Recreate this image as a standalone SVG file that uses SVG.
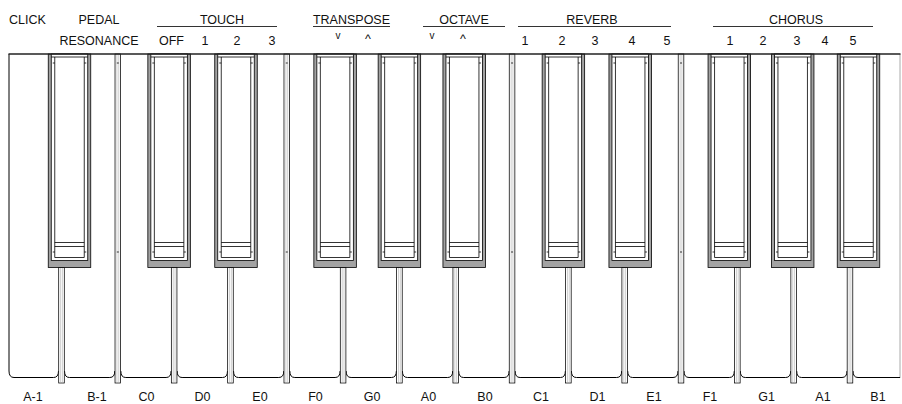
<svg xmlns="http://www.w3.org/2000/svg" xmlns:xlink="http://www.w3.org/1999/xlink" width="902" height="404" viewBox="0 0 902 404">
<style>
.t{font-family:"Liberation Sans",Arial,sans-serif;font-size:12.5px;fill:#111;text-anchor:middle}
.ul{stroke:#333;stroke-width:1.2}
.k{stroke:#000;stroke-width:0.8;fill:none}
.kb{stroke:#000;stroke-width:1;fill:none}
.g{stroke:#b0b0b0;stroke-width:0.6}
</style>
<defs>
<g id="bk">
<rect x="0" y="54" width="42.5" height="213.5" fill="#a3a3a3" stroke="#000" stroke-width="0.8"/>
<rect x="3" y="54" width="36.5" height="206.5" fill="#fff" stroke="#000" stroke-width="0.8"/>
<path class="k" d="M6.5 57V257.5M36 57V257.5M3 57H39.5M6.5 242.5H36M6.5 246.5H36M6.5 257.5H36M4.5 63H6.5M36 63H38M4.5 252H6.5M36 252H38"/>
</g>
<g id="sepS">
<rect x="-2.8" y="267.5" width="5.6" height="115.5" fill="#fff" stroke="#000" stroke-width="0.75"/>
<path class="g" d="M-0.9 268V382.5M0.9 268V382.5"/>
</g>
<g id="sepF">
<rect x="-2.8" y="54" width="5.6" height="329" fill="#fff" stroke="#000" stroke-width="0.75"/>
<path class="g" d="M-0.9 55V382.5M0.9 55V382.5"/>
<path class="k" d="M-1 63H1M-1 252H1"/>
</g>
</defs>

<g id="labels-top">
<text class="t" x="27.5" y="24">CLICK</text>
<text class="t" x="99" y="24">PEDAL</text>
<text class="t" x="99" y="45">RESONANCE</text>
<text class="t" x="222" y="24">TOUCH</text>
<line class="ul" x1="157" y1="26.5" x2="277" y2="26.5"/>
<text class="t" x="171.5" y="45">OFF</text>
<text class="t" x="205" y="45">1</text>
<text class="t" x="237" y="45">2</text>
<text class="t" x="272" y="45">3</text>
<text class="t" x="351.5" y="24">TRANSPOSE</text>
<line class="ul" x1="313" y1="26.5" x2="390" y2="26.5"/>
<text class="t" x="338" y="38.5" style="font-size:10px">v</text>
<text class="t" x="368" y="42.5">^</text>
<text class="t" x="464" y="24">OCTAVE</text>
<line class="ul" x1="423" y1="26.5" x2="505" y2="26.5"/>
<text class="t" x="432" y="38.5" style="font-size:10px">v</text>
<text class="t" x="463" y="42.5">^</text>
<text class="t" x="592" y="24">REVERB</text>
<line class="ul" x1="518" y1="26.5" x2="671" y2="26.5"/>
<text class="t" x="525" y="45">1</text>
<text class="t" x="562" y="45">2</text>
<text class="t" x="595" y="45">3</text>
<text class="t" x="632" y="45">4</text>
<text class="t" x="667" y="45">5</text>
<text class="t" x="796" y="24">CHORUS</text>
<line class="ul" x1="713" y1="26.5" x2="873" y2="26.5"/>
<text class="t" x="730" y="45">1</text>
<text class="t" x="763" y="45">2</text>
<text class="t" x="797" y="45">3</text>
<text class="t" x="825" y="45">4</text>
<text class="t" x="853" y="45">5</text>
</g>

<g id="keyboard-frame">
<rect x="9" y="54" width="891" height="324" fill="#fff"/>
<path class="kb" d="M9 54V371"/>
<path d="M900 54V378" stroke="#aaa" stroke-width="1" fill="none"/>
</g>

<g id="white-keys">
<path id="wk-A-1" class="kb" d="M9 371Q9 377.5 14 377.5H53.5Q58.5 377.5 58.5 371"/>
<path id="wk-B-1" class="kb" d="M64.5 371Q64.5 377.5 69.5 377.5H109.8Q114.8 377.5 114.8 371"/>
<path id="wk-C0" class="kb" d="M120.8 371Q120.8 377.5 125.8 377.5H166.1Q171.1 377.5 171.1 371"/>
<path id="wk-D0" class="kb" d="M177.1 371Q177.1 377.5 182.1 377.5H222.5Q227.5 377.5 227.5 371"/>
<path id="wk-E0" class="kb" d="M233.5 371Q233.5 377.5 238.5 377.5H278.8Q283.8 377.5 283.8 371"/>
<path id="wk-F0" class="kb" d="M289.8 371Q289.8 377.5 294.8 377.5H335.1Q340.1 377.5 340.1 371"/>
<path id="wk-G0" class="kb" d="M346.1 371Q346.1 377.5 351.1 377.5H391.4Q396.4 377.5 396.4 371"/>
<path id="wk-A0" class="kb" d="M402.4 371Q402.4 377.5 407.4 377.5H447.7Q452.7 377.5 452.7 371"/>
<path id="wk-B0" class="kb" d="M458.7 371Q458.7 377.5 463.7 377.5H504.1Q509.1 377.5 509.1 371"/>
<path id="wk-C1" class="kb" d="M515.1 371Q515.1 377.5 520.1 377.5H560.4Q565.4 377.5 565.4 371"/>
<path id="wk-D1" class="kb" d="M571.4 371Q571.4 377.5 576.4 377.5H616.7Q621.7 377.5 621.7 371"/>
<path id="wk-E1" class="kb" d="M627.7 371Q627.7 377.5 632.7 377.5H673Q678 377.5 678 371"/>
<path id="wk-F1" class="kb" d="M684 371Q684 377.5 689 377.5H729.3Q734.3 377.5 734.3 371"/>
<path id="wk-G1" class="kb" d="M740.3 371Q740.3 377.5 745.3 377.5H785.7Q790.7 377.5 790.7 371"/>
<path id="wk-A1" class="kb" d="M796.7 371Q796.7 377.5 801.7 377.5H842Q847 377.5 847 371"/>
<path id="wk-B1" class="kb" d="M853 371Q853 377.5 858 377.5H900"/>
</g>

<g id="separators">
<use xlink:href="#sepS" href="#sepS" transform="translate(61.5 0)"/>
<use xlink:href="#sepF" href="#sepF" transform="translate(117.82 0)"/>
<use xlink:href="#sepS" href="#sepS" transform="translate(174.14 0)"/>
<use xlink:href="#sepS" href="#sepS" transform="translate(230.46 0)"/>
<use xlink:href="#sepF" href="#sepF" transform="translate(286.78 0)"/>
<use xlink:href="#sepS" href="#sepS" transform="translate(343.1 0)"/>
<use xlink:href="#sepS" href="#sepS" transform="translate(399.42 0)"/>
<use xlink:href="#sepS" href="#sepS" transform="translate(455.74 0)"/>
<use xlink:href="#sepF" href="#sepF" transform="translate(512.06 0)"/>
<use xlink:href="#sepS" href="#sepS" transform="translate(568.38 0)"/>
<use xlink:href="#sepS" href="#sepS" transform="translate(624.7 0)"/>
<use xlink:href="#sepF" href="#sepF" transform="translate(681.02 0)"/>
<use xlink:href="#sepS" href="#sepS" transform="translate(737.34 0)"/>
<use xlink:href="#sepS" href="#sepS" transform="translate(793.66 0)"/>
<use xlink:href="#sepS" href="#sepS" transform="translate(849.98 0)"/>
</g>

<g id="bk-As-1"><use xlink:href="#bk" href="#bk" transform="translate(48.25 0)"/></g>
<g id="bk-Cs0"><use xlink:href="#bk" href="#bk" transform="translate(147.85 0)"/></g>
<g id="bk-Ds0"><use xlink:href="#bk" href="#bk" transform="translate(214.75 0)"/></g>
<g id="bk-Fs0"><use xlink:href="#bk" href="#bk" transform="translate(313.85 0)"/></g>
<g id="bk-Gs0"><use xlink:href="#bk" href="#bk" transform="translate(378.15 0)"/></g>
<g id="bk-As0"><use xlink:href="#bk" href="#bk" transform="translate(442.95 0)"/></g>
<g id="bk-Cs1"><use xlink:href="#bk" href="#bk" transform="translate(542.15 0)"/></g>
<g id="bk-Ds1"><use xlink:href="#bk" href="#bk" transform="translate(608.95 0)"/></g>
<g id="bk-Fs1"><use xlink:href="#bk" href="#bk" transform="translate(708.05 0)"/></g>
<g id="bk-Gs1"><use xlink:href="#bk" href="#bk" transform="translate(771.45 0)"/></g>
<g id="bk-As1"><use xlink:href="#bk" href="#bk" transform="translate(837.25 0)"/></g>

<g id="top-edge">
<path d="M8.5 54H900.5" stroke="#222" stroke-width="1.6"/>
</g>

<g id="labels-bottom">
<text class="t" x="33" y="401">A-1</text>
<text class="t" x="97" y="401">B-1</text>
<text class="t" x="146.5" y="401">C0</text>
<text class="t" x="202.5" y="401">D0</text>
<text class="t" x="260" y="401">E0</text>
<text class="t" x="315.5" y="401">F0</text>
<text class="t" x="372" y="401">G0</text>
<text class="t" x="428.5" y="401">A0</text>
<text class="t" x="485" y="401">B0</text>
<text class="t" x="541" y="401">C1</text>
<text class="t" x="597.5" y="401">D1</text>
<text class="t" x="654" y="401">E1</text>
<text class="t" x="710" y="401">F1</text>
<text class="t" x="766.5" y="401">G1</text>
<text class="t" x="823" y="401">A1</text>
<text class="t" x="878" y="401">B1</text>
</g>
</svg>
